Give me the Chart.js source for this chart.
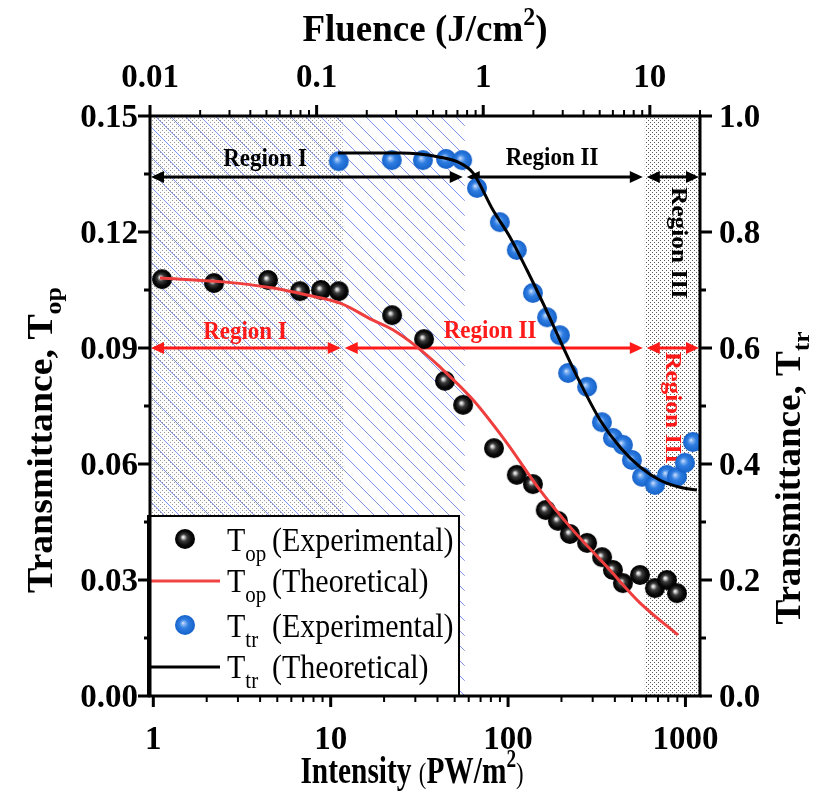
<!DOCTYPE html>
<html>
<head>
<meta charset="utf-8">
<script src="https://cdn.jsdelivr.net/npm/chart.js@4.4.0/dist/chart.umd.min.js"></script>
<style>
  html, body { margin: 0; padding: 0; background: #fff; }
  #wrap { width: 817px; height: 799px; }
</style>
</head>
<body>
<div id="wrap"><canvas id="chart" width="817" height="799"></canvas></div>
<script>
/* Optical limiting: transmittance vs intensity / fluence */

// --- data (intensity in PW/m^2) ---
const opExpX = [1.12, 2.20, 4.43, 6.71, 8.82, 11.1, 22.2, 33.6, 44.1, 55.8, 83.3, 112, 138, 163, 191, 223, 279, 339, 390, 444, 554, 673, 787, 896];
const opExpY = [0.1078, 0.1068, 0.1076, 0.1047, 0.1050, 0.1047, 0.0985, 0.0923, 0.0815, 0.0753, 0.0641, 0.0572, 0.0548, 0.0481, 0.0453, 0.0419, 0.0396, 0.0359, 0.0326, 0.0292, 0.0313, 0.0279, 0.0300, 0.0266];

const opTheoX = [1.09, 2.47, 4.73, 7.35, 11.3, 17.3, 22.4, 30.6, 41.3, 63.4, 98.6, 151, 232, 361, 554, 908];
const opTheoY = [0.1081, 0.1071, 0.1055, 0.1037, 0.1016, 0.0972, 0.0947, 0.0903, 0.0851, 0.0766, 0.0654, 0.0533, 0.0429, 0.0334, 0.0241, 0.0158];

const trExpX = [11.1, 22.1, 33.1, 44.7, 55.1, 66.8, 89.9, 112, 138, 166, 196, 218, 279, 338, 390, 444, 499, 569, 673, 787, 896, 993, 1102];
const trExpY = [0.922, 0.924, 0.924, 0.926, 0.924, 0.876, 0.817, 0.769, 0.695, 0.653, 0.622, 0.557, 0.533, 0.472, 0.445, 0.433, 0.407, 0.378, 0.364, 0.381, 0.378, 0.402, 0.438];

const trTheoX = [11.0, 24.6, 41.3, 53.5, 63.4, 82.2, 102.6, 128, 157, 204, 255, 330, 428, 554, 719, 931, 1161];
const trTheoY = [0.936, 0.936, 0.929, 0.919, 0.902, 0.838, 0.791, 0.734, 0.678, 0.602, 0.540, 0.476, 0.429, 0.395, 0.372, 0.360, 0.355];

// region borders (intensity) and arrow levels
const opBorders = [11.7, 590];   // T_op: I | II | III
const trBorders = [57, 590];     // T_tr: I | II | III
const opArrowLevel = 0.09;       // left axis
const trArrowLevel = 0.895;      // right axis
const regionNames = ['Region I', 'Region II', 'Region III'];

// axes
const xRange = [0.958, 1208];
const x2Range = [0.01, 20];
const xTicks = [1, 10, 100, 1000];
const x2Ticks = [0.01, 0.1, 1, 10];
const x2Labels = ['0.01', '0.1', '1', '10'];
const yTicks = [0, 0.03, 0.06, 0.09, 0.12, 0.15];
const yLabels = ['0.00', '0.03', '0.06', '0.09', '0.12', '0.15'];
const y2Ticks = [0, 0.2, 0.4, 0.6, 0.8, 1.0];
const y2Labels = ['0.0', '0.2', '0.4', '0.6', '0.8', '1.0'];

const SERIF = '"Liberation Serif", "Times New Roman", serif';
const RED = '#ff1a1a';

function pairs(xs, ys) { return xs.map((x, i) => ({ x: x, y: ys[i] })); }

function sphere(r, stops) {
    const s = document.createElement('canvas');
    s.width = s.height = 2 * r + 2;
    const c = s.getContext('2d');
    const m = r + 1;
    const g = c.createRadialGradient(m - r * 0.2, m - r * 0.2, 0, m, m, r);
    stops.forEach(st => g.addColorStop(st[0], st[1]));
    c.fillStyle = g;
    c.beginPath(); c.arc(m, m, r, 0, Math.PI * 2); c.fill();
    return s;
}
const blackBall = sphere(10, [[0, '#ffffff'], [0.12, '#cfcfcf'], [0.35, '#3c3c3c'], [0.7, '#0a0a0a'], [1, '#000000']]);
const blueBall = sphere(10, [[0, '#e4eeff'], [0.15, '#8cb8f4'], [0.45, '#2f7ee2'], [1, '#1561c9']]);

function font(p) { return (p.bold ? 'bold ' : '') + p.size + 'px ' + SERIF; }

// draw runs of text (for sub/superscripts); o.rot rotates, o.sx/o.sy stretch in text space
function rich(ctx, parts, x, y, o) {
    o = o || {};
    ctx.save();
    ctx.translate(x, y);
    if (o.rot) ctx.rotate(o.rot);
    ctx.scale(o.sx || 1, o.sy || 1);
    ctx.fillStyle = o.color || '#000';
    ctx.textBaseline = o.base || 'alphabetic';
    ctx.textAlign = 'left';
    let w = 0;
    parts.forEach(p => { ctx.font = font(p); p.w = ctx.measureText(p.t).width; w += p.w; });
    let cx = o.align === 'center' ? -w / 2 : (o.align === 'right' ? -w : 0);
    parts.forEach(p => { ctx.font = font(p); ctx.fillText(p.t, cx, p.dy || 0); cx += p.w; });
    ctx.restore();
}

function arrow(ctx, x1, x2, y, color) {
    const hl = 13, hw = 6;
    ctx.save();
    ctx.strokeStyle = color; ctx.fillStyle = color; ctx.lineWidth = 3;
    ctx.beginPath(); ctx.moveTo(x1 + hl - 2, y); ctx.lineTo(x2 - hl + 2, y); ctx.stroke();
    ctx.beginPath(); ctx.moveTo(x1, y); ctx.lineTo(x1 + hl, y - hw); ctx.lineTo(x1 + hl, y + hw); ctx.closePath(); ctx.fill();
    ctx.beginPath(); ctx.moveTo(x2, y); ctx.lineTo(x2 - hl, y - hw); ctx.lineTo(x2 - hl, y + hw); ctx.closePath(); ctx.fill();
    ctx.restore();
}

function dotPattern(ctx, col) {
    const p = document.createElement('canvas'); p.width = 4; p.height = 4;
    const c = p.getContext('2d');
    c.fillStyle = col;
    c.fillRect(0, 0, 1, 1); c.fillRect(2, 2, 1, 1);
    return ctx.createPattern(p, 'repeat');
}

function logMinors(range) {
    const out = [];
    const start = Math.floor(Math.log10(range[0])), end = Math.ceil(Math.log10(range[1]));
    for (let e = start; e <= end; e++) {
        for (let m = 2; m <= 9; m++) {
            const v = m * Math.pow(10, e);
            if (v >= range[0] && v <= range[1] * 1.001) out.push(v);
        }
    }
    return out;
}

const decor = {
    id: 'decor',
    beforeDatasetsDraw(chart) {
        const { ctx, chartArea: a, scales } = chart;
        const X = v => scales.x.getPixelForValue(v);
        ctx.save();
        // stippled regions
        ctx.fillStyle = dotPattern(ctx, '#9a9a9a');
        ctx.fillRect(a.left, a.top, X(opBorders[0]) - a.left, a.bottom - a.top);
        ctx.fillStyle = dotPattern(ctx, '#5a5a5a');
        ctx.fillRect(X(opBorders[1]), a.top, a.right - X(opBorders[1]), a.bottom - a.top);
        // blue diagonal hatch
        const hx = X(trBorders[0]);
        ctx.beginPath(); ctx.rect(a.left, a.top, hx - a.left, a.bottom - a.top); ctx.clip();
        ctx.strokeStyle = '#7f93ee'; ctx.lineWidth = 1;
        const H = a.bottom - a.top;
        ctx.beginPath();
        for (let k = -H; k < hx - a.left; k += 15) {
            ctx.moveTo(a.left + k, a.top); ctx.lineTo(a.left + k + H, a.bottom);
        }
        ctx.stroke();
        ctx.restore();

        // region arrows
        const yTr = scales.y2.getPixelForValue(trArrowLevel);
        const tb = [a.left + 1, X(trBorders[0]), X(trBorders[1]), a.right - 1];
        for (let i = 0; i < 3; i++) arrow(ctx, tb[i] + (i ? 2 : 0), tb[i + 1] - (i < 2 ? 2 : 0), yTr, '#000');
        const yOp = scales.y.getPixelForValue(opArrowLevel);
        const ob = [a.left + 1, X(opBorders[0]), X(opBorders[1]), a.right - 1];
        for (let i = 0; i < 3; i++) arrow(ctx, ob[i] + (i ? 2 : 0), ob[i + 1] - (i < 2 ? 2 : 0), yOp, RED);

        // region labels
        const lab = (t, x, y, col, rot) => rich(ctx, [{ t: t, size: 23, bold: true }], x, y,
            { color: col, align: 'center', sy: rot ? 1 : 1.1, sx: rot ? 1.1 : 1, rot: rot, base: rot ? 'middle' : 'alphabetic' });
        lab(regionNames[0], 265, 166, '#000');
        lab(regionNames[1], 552, 165, '#000');
        lab(regionNames[2], 678, 243, '#000', Math.PI / 2);
        lab(regionNames[0], 245, 339, RED);
        lab(regionNames[1], 490, 338, RED);
        lab(regionNames[2], 672, 408, RED, Math.PI / 2);
    },
    afterDatasetsDraw(chart) {
        const { ctx, chartArea: a, scales } = chart;
        ctx.save();

        // legend
        const L = { l: 148, t: 516, r: 459, b: a.bottom };
        ctx.fillStyle = '#fff';
        ctx.fillRect(L.l, L.t, L.r - L.l, L.b - L.t);
        ctx.strokeStyle = '#000'; ctx.lineWidth = 2;
        ctx.strokeRect(L.l, L.t, L.r - L.l, L.b - L.t);
        const rows = [
            { y: 551, sub: 'op', rest: '(Experimental)', mark: 'ball', img: blackBall },
            { y: 592, sub: 'op', rest: '(Theoretical)', mark: 'line', col: '#ef4444' },
            { y: 637, sub: 'tr', rest: '(Experimental)', mark: 'ball', img: blueBall },
            { y: 678, sub: 'tr', rest: '(Theoretical)', mark: 'line', col: '#000' }
        ];
        rows.forEach(r => {
            if (r.mark === 'ball') ctx.drawImage(r.img, 185 - r.img.width / 2, r.y - 12 - r.img.height / 2);
            else {
                ctx.strokeStyle = r.col; ctx.lineWidth = 3;
                ctx.beginPath(); ctx.moveTo(150, r.y - 11); ctx.lineTo(220, r.y - 11); ctx.stroke();
            }
            rich(ctx, [{ t: 'T', size: 30 }, { t: r.sub, size: 21, dy: 9 }], 227, r.y, { sy: 1.1 });
            rich(ctx, [{ t: r.rest, size: 30 }], 272, r.y, { sy: 1.1 });
        });

        // frame
        ctx.strokeStyle = '#000'; ctx.lineWidth = 3;
        ctx.strokeRect(a.left, a.top, a.right - a.left, a.bottom - a.top);

        // ticks
        const tick = (x1, y1, x2, y2, w) => { ctx.lineWidth = w; ctx.beginPath(); ctx.moveTo(x1, y1); ctx.lineTo(x2, y2); ctx.stroke(); };
        xTicks.forEach(v => { const p = scales.x.getPixelForValue(v); tick(p, a.bottom, p, a.bottom + 11, 3); });
        logMinors(xRange).forEach(v => { const p = scales.x.getPixelForValue(v); tick(p, a.bottom, p, a.bottom + 6, 2); });
        x2Ticks.forEach(v => { const p = scales.x2.getPixelForValue(v); tick(p, a.top, p, a.top - 11, 3); });
        logMinors(x2Range).forEach(v => { const p = scales.x2.getPixelForValue(v); tick(p, a.top, p, a.top - 6, 2); });
        yTicks.forEach(v => { const p = scales.y.getPixelForValue(v); tick(a.left, p, a.left - 12, p, 3); });
        yTicks.slice(1).forEach((v, i) => { const p = scales.y.getPixelForValue((v + yTicks[i]) / 2); tick(a.left, p, a.left - 6, p, 3); });
        y2Ticks.forEach(v => { const p = scales.y2.getPixelForValue(v); tick(a.right, p, a.right + 12, p, 3); });
        y2Ticks.slice(1).forEach((v, i) => { const p = scales.y2.getPixelForValue((v + y2Ticks[i]) / 2); tick(a.right, p, a.right + 6, p, 3); });

        // tick labels
        const tl = { size: 33, bold: true };
        xTicks.forEach(v => rich(ctx, [{ t: String(v), ...tl }], scales.x.getPixelForValue(v), 749, { align: 'center' }));
        x2Ticks.forEach((v, i) => rich(ctx, [{ t: x2Labels[i], ...tl }], scales.x2.getPixelForValue(v), 87, { align: 'center' }));
        yTicks.forEach((v, i) => rich(ctx, [{ t: yLabels[i], ...tl }], 138, scales.y.getPixelForValue(v) + 11, { align: 'right' }));
        y2Ticks.forEach((v, i) => rich(ctx, [{ t: y2Labels[i], ...tl }], 719, scales.y2.getPixelForValue(v) + 11, {}));

        // axis titles
        rich(ctx, [{ t: 'Fluence (J/cm', size: 37, bold: true }, { t: '2', size: 24, bold: true, dy: -15 }, { t: ')', size: 37, bold: true }],
            425, 41, { align: 'center', sy: 1.05 });
        rich(ctx, [{ t: 'Intensity ', size: 35, bold: true }, { t: '(', size: 27 }, { t: 'PW/m', size: 35, bold: true },
            { t: '2', size: 23, bold: true, dy: -15 }, { t: ')', size: 27 }], 412, 783, { align: 'center', sx: 0.84, sy: 1.1 });
        rich(ctx, [{ t: 'Transmittance, T', size: 35, bold: true }, { t: 'op', size: 24, bold: true, dy: 9 }],
            52, 440, { align: 'center', rot: -Math.PI / 2, sx: 1.08 });
        rich(ctx, [{ t: 'Transmittance, T', size: 35, bold: true }, { t: 'tr', size: 24, bold: true, dy: 9 }],
            800, 478, { align: 'center', rot: -Math.PI / 2, sx: 1.06 });

        ctx.restore();
    }
};

new Chart(document.getElementById('chart'), {
    type: 'line',
    data: {
        datasets: [
            { label: 'Top (Theoretical)', data: pairs(opTheoX, opTheoY), xAxisID: 'x', yAxisID: 'y',
              borderColor: '#ef3e3e', borderWidth: 3, pointRadius: 0, cubicInterpolationMode: 'monotone', order: 1 },
            { label: 'Ttr (Theoretical)', data: pairs(trTheoX, trTheoY), xAxisID: 'x', yAxisID: 'y2',
              borderColor: '#000', borderWidth: 3, pointRadius: 0, cubicInterpolationMode: 'monotone', order: 2 },
            { label: 'Top (Experimental)', data: pairs(opExpX, opExpY), xAxisID: 'x', yAxisID: 'y',
              showLine: false, pointStyle: blackBall, pointRadius: 10, order: 3 },
            { label: 'Ttr (Experimental)', data: pairs(trExpX, trExpY), xAxisID: 'x', yAxisID: 'y2',
              showLine: false, pointStyle: blueBall, pointRadius: 10, order: 4 }
        ]
    },
    options: {
        responsive: false,
        animation: false,
        layout: { padding: { left: 150, right: 117, top: 116, bottom: 103 } },
        plugins: { legend: { display: false }, tooltip: { enabled: false } },
        scales: {
            x: { type: 'logarithmic', position: 'bottom', min: xRange[0], max: xRange[1], display: false },
            x2: { type: 'logarithmic', position: 'top', min: x2Range[0], max: x2Range[1], display: false },
            y: { type: 'linear', position: 'left', min: 0, max: 0.15, display: false },
            y2: { type: 'linear', position: 'right', min: 0, max: 1, display: false }
        }
    },
    plugins: [decor]
});
</script>
</body>
</html>
